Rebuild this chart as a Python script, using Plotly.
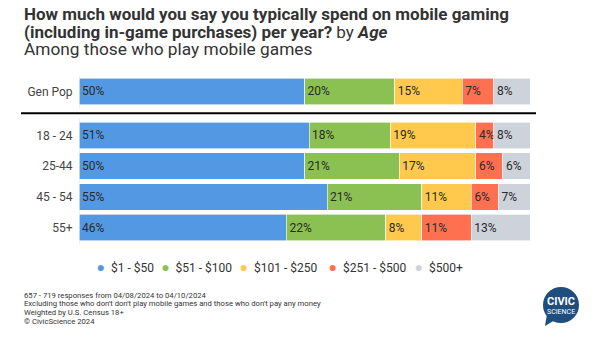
import plotly.graph_objects as go

# ---- data ----
groups = ["Gen Pop", "18 - 24", "25-44", "45 - 54", "55+"]
series_names = ["$1 - $50", "$51 - $100", "$101 - $250", "$251 - $500", "$500+"]
s_1_50 = [50, 51, 50, 55, 46]
s_51_100 = [20, 18, 21, 21, 22]
s_101_250 = [15, 19, 17, 11, 8]
s_251_500 = [7, 4, 6, 6, 11]
s_500_plus = [8, 8, 6, 7, 13]

footer_lines = [
    "657 - 719 responses from 04/08/2024 to 04/10/2024",
    "Excluding those who don't don't play mobile games and those who don't pay any money",
    "Weighted by U.S. Census 18+",
    "\u00a9 CivicScience 2024",
]

# ---- layout constants ----
colors = ["#5398E2", "#8BC152", "#FFC94E", "#FF7051", "#CED2DA"]
legend_widths = [19.7, 33.3, 44, 41, 60]
ypos = [-1.43, 0, 1, 2, 3]
W, H = 600, 337
L, R_EDGE, T, B_EDGE = 79, 530, 75, 245
FONT = "Roboto"
LOGO = "#1F4E7E"


def px(x):
    return (x - L) / (R_EDGE - L)


def py(y):
    return (B_EDGE - y) / (B_EDGE - T)


fig = go.Figure()
all_series = [s_1_50, s_51_100, s_101_250, s_251_500, s_500_plus]
for name, vals, col in zip(series_names, all_series, colors):
    fig.add_trace(go.Bar(
        name=name, x=vals, y=ypos, orientation="h",
        marker=dict(color=col, line=dict(color="white", width=0.6)),
        width=0.86,
        text=[f"{v}%" for v in vals],
        textposition="inside", insidetextanchor="start",
        constraintext="none", textangle=0,
        textfont=dict(family=FONT, size=12, color="#2a2a2a"),
        hoverinfo="skip", showlegend=False,
    ))
# legend entries: circle drawn as a coloured glyph right next to the label
for name, col, lw in zip(series_names, colors, legend_widths):
    fig.add_trace(go.Scatter(
        name=f"<span style='color:{col};font-size:14px'>\u25cf</span>\u00a0 {name}",
        x=[None], y=[None], mode="markers",
        marker=dict(color="rgba(0,0,0,0)", size=1, line=dict(width=0)),
        legendwidth=lw, showlegend=True, hoverinfo="skip",
    ))

annotations = []
title_lines = [
    ("<b>How much would you say you typically spend on mobile gaming</b>", 14, 17),
    ("<b>(including in-game purchases) per year?</b> by <b><i>Age</i></b>", 31.5, 17),
    ("Among those who play mobile games", 49, 17.3),
]
for txt, y, sz in title_lines:
    annotations.append(dict(text=txt, x=px(22), y=py(y), xref="paper", yref="paper",
                            xanchor="left", yanchor="middle", showarrow=False,
                            font=dict(family=FONT, size=sz, color="#333333")))
for i, line in enumerate(footer_lines):
    annotations.append(dict(text=line, x=px(22), y=py(295 + i * 8.7), xref="paper", yref="paper",
                            xanchor="left", yanchor="middle", showarrow=False,
                            font=dict(family=FONT, size=7.7, color="#333333")))
# logo text
annotations.append(dict(text="<b>CIVIC</b>", x=px(561), y=py(301), xref="paper", yref="paper",
                        xanchor="center", yanchor="middle", showarrow=False,
                        font=dict(family=FONT, size=11, color="white")))
annotations.append(dict(text="SCIENCE", x=px(561), y=py(311.5), xref="paper", yref="paper",
                        xanchor="center", yanchor="middle", showarrow=False,
                        font=dict(family=FONT, size=7, color="white")))

shapes = [
    dict(type="line", xref="paper", yref="y", x0=px(21), x1=px(536), y0=-0.72, y1=-0.72,
         line=dict(color="black", width=2)),
    dict(type="line", xref="x", yref="y", x0=0, x1=0, y0=-1.93, y1=-0.88,
         line=dict(color="#dddddd", width=1), layer="below"),
    dict(type="line", xref="x", yref="y", x0=0, x1=0, y0=-0.55, y1=3.55,
         line=dict(color="#dddddd", width=1), layer="below"),
    dict(type="circle", xref="paper", yref="paper", x0=px(543), x1=px(579), y0=py(323), y1=py(287),
         fillcolor=LOGO, line=dict(width=0)),
    dict(type="path", xref="paper", yref="paper",
         path=f"M {px(547)} {py(314)} L {px(545)} {py(326)} L {px(555)} {py(320)} Z",
         fillcolor=LOGO, line=dict(width=0)),
]

fig.update_layout(
    width=W, height=H, barmode="stack",
    margin=dict(l=L, r=W - R_EDGE, t=T, b=H - B_EDGE, pad=0),
    paper_bgcolor="white", plot_bgcolor="white",
    font=dict(family=FONT, color="#333333"),
    xaxis=dict(range=[0, 100], visible=False),
    yaxis=dict(range=[3.57, -1.967], tickvals=ypos, ticktext=groups, showgrid=False,
               zeroline=False, showline=False, ticks="outside", ticklen=3,
               tickcolor="rgba(0,0,0,0)", tickfont=dict(family=FONT, size=12, color="#444444")),
    legend=dict(orientation="h", x=px(56.5), xanchor="left", y=py(267), yanchor="middle",
                font=dict(family=FONT, size=12, color="#333333"), itemwidth=30,
                traceorder="normal", bgcolor="rgba(0,0,0,0)"),
    showlegend=True,
    annotations=annotations, shapes=shapes,
)

fig.write_html("out.html")
